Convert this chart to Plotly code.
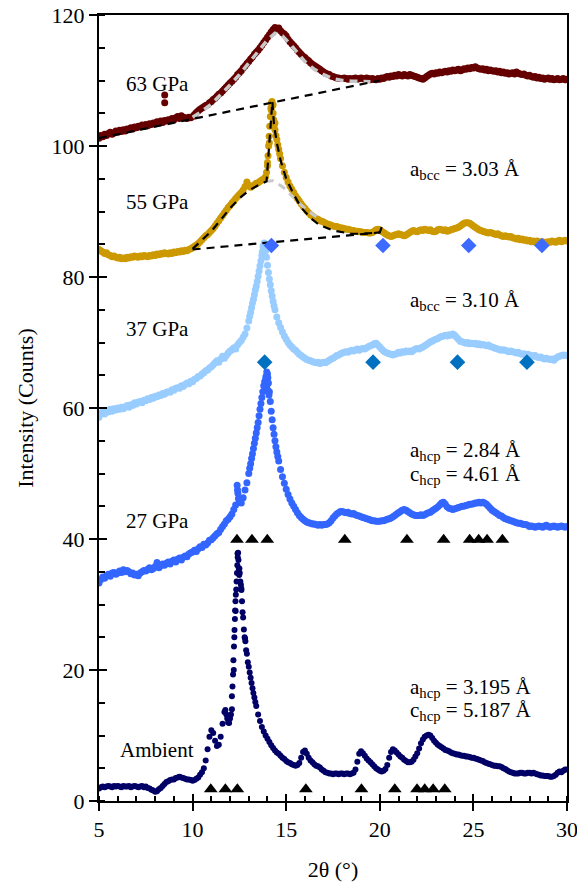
import numpy as np
import plotly.graph_objects as go

# ---------------- data ----------------
# common 2-theta sampling grid (5.0 ... 30.0, step 0.1)
two_theta = np.round(np.arange(5.0, 30.0001, 0.1), 1)

ambient_y = [
 1.9, 2.1, 2.2, 2.1, 2.2, 2.3, 2.2, 2.1, 2.3, 2.2,
 2.3, 2.2, 2.1, 2.3, 2.2, 2.2, 2.3, 2.1, 2.2, 2.3,
 2.2, 2.1, 2.2, 2.3, 2.1, 2.2, 2.0, 1.9, 1.7, 1.6,
 1.4, 1.5, 1.8, 2.0, 2.3, 2.6, 2.9, 3.0, 3.2, 3.3,
 3.3, 3.5, 3.6, 3.7, 3.6, 3.5, 3.4, 3.3, 3.3, 3.2,
 3.1, 3.2, 3.4, 3.6, 4.0, 4.4, 5.0, 6.2, 7.9, 9.8,
 10.8, 10.4, 9.2, 8.4, 8.6, 9.8, 11.8, 13.6, 13.2, 12.0,
 12.6, 14.0, 20.0, 29.0, 37.8, 35.5, 32.5, 28.0, 24.8, 22.5,
 20.5, 18.8, 17.2, 15.8, 14.5, 13.2, 12.2, 11.3, 10.6, 10.0,
 9.5, 9.0, 8.5, 8.1, 7.7, 7.4, 7.2, 6.9, 6.6, 6.4,
 6.1, 5.9, 5.8, 5.6, 5.5, 5.4, 5.5, 5.8, 6.6, 7.5,
 7.7, 7.2, 6.6, 6.2, 5.9, 5.6, 5.4, 5.3, 5.1, 4.8,
 4.6, 4.4, 4.3, 4.2, 4.2, 4.1, 4.2, 4.2, 4.1, 4.2,
 4.2, 4.1, 4.2, 4.2, 4.1, 4.2, 4.3, 4.8, 6.0, 7.2,
 7.6, 7.3, 6.9, 6.5, 6.2, 5.9, 5.6, 5.3, 5.0, 4.8,
 4.6, 4.5, 4.6, 4.9, 5.5, 6.6, 7.5, 7.9, 7.7, 7.4,
 7.1, 6.8, 6.6, 6.3, 6.1, 5.9, 5.9, 6.0, 6.3, 6.8,
 7.3, 8.0, 8.8, 9.4, 9.8, 10.0, 10.1, 10.0, 9.6, 9.2,
 8.9, 8.6, 8.4, 8.2, 8.0, 7.8, 7.7, 7.6, 7.4, 7.3,
 7.2, 7.1, 7.1, 7.0, 6.9, 6.9, 6.8, 6.8, 6.7, 6.6,
 6.6, 6.5, 6.4, 6.3, 6.2, 6.1, 5.9, 5.8, 5.7, 5.6,
 5.5, 5.4, 5.4, 5.3, 5.3, 5.2, 5.0, 4.9, 4.7, 4.5,
 4.4, 4.3, 4.2, 4.2, 4.2, 4.3, 4.3, 4.2, 4.2, 4.3,
 4.3, 4.2, 4.3, 4.2, 4.1, 4.0, 3.9, 3.9, 3.8, 3.8,
 3.8, 3.7, 3.7, 3.8, 4.0, 4.3, 4.5, 4.4, 4.6, 4.8, 4.8]
ambient_fine_x = [11.75, 11.85, 11.95, 12.05, 12.10, 12.13, 12.16, 12.18, 12.21, 12.23, 12.24, 12.26,
                  12.27, 12.29, 12.31, 12.33, 12.35, 12.37, 12.39, 12.41, 12.43, 12.45, 12.47,
                  12.49, 12.52, 12.55, 12.58, 12.61, 12.64, 12.67, 12.74, 12.78, 12.82, 12.86,
                  12.95, 13.05, 13.15, 13.25, 13.35]
ambient_fine_y = [13.9, 12.6, 11.9, 13.2, 16.0, 17.5, 19.3, 21.5, 23.6, 25.0, 26.1, 27.8,
                  29.1, 30.5, 31.5, 32.3, 33.5, 34.8, 36.0, 37.2, 37.9, 36.8, 35.5,
                  34.5, 34.8, 33.5, 33.0, 32.2, 30.5, 28.8, 26.2, 25.0, 24.4, 23.0,
                  21.2, 19.6, 18.0, 16.5, 15.1]

gpa27_y = [
 33.3, 33.8, 34.2, 34.0, 34.4, 34.6, 34.3, 34.8, 34.9, 34.6,
 34.8, 35.1, 34.9, 35.3, 35.0, 35.2, 35.0, 34.7, 34.8, 34.5,
 34.6, 34.4, 34.8, 35.0, 35.2, 35.1, 35.4, 35.6, 35.3, 35.5,
 35.8, 36.4, 35.6, 35.9, 36.2, 36.0, 36.3, 36.5, 36.2, 36.6,
 36.8, 36.5, 36.9, 37.1, 36.8, 37.2, 37.4, 37.3, 37.7, 37.9,
 38.0, 38.3, 38.1, 38.5, 38.8, 38.7, 39.2, 39.1, 39.4, 39.8,
 39.9, 40.2, 40.5, 40.8, 41.0, 41.5, 41.9, 42.3, 42.8, 43.0,
 43.4, 43.8, 44.5, 45.2, 47.5, 45.8, 45.5, 46.3, 47.5, 48.6,
 50.0, 51.5, 53.0, 54.6, 56.2, 57.8, 59.8, 61.6, 63.4, 64.4,
 65.2, 62.5, 59.5, 57.0, 55.0, 53.3, 51.9, 50.6, 49.5, 48.5,
 47.6, 46.8, 46.1, 45.5, 45.0, 44.5, 44.0, 43.6, 43.3, 43.0,
 42.8, 42.6, 42.5, 42.4, 42.3, 42.3, 42.2, 42.1, 42.2, 42.1,
 42.2, 42.2, 42.3, 42.5, 42.8, 43.2, 43.5, 43.8, 44.0, 44.2,
 44.2, 44.1, 44.0, 44.1, 43.9, 43.8, 43.9, 43.7, 43.6, 43.5,
 43.4, 43.3, 43.2, 43.1, 43.0, 42.9, 42.8, 42.8, 42.7, 42.7,
 42.7, 42.8, 42.8, 42.9, 43.0, 43.1, 43.2, 43.4, 43.6, 43.8,
 44.0, 44.2, 44.4, 44.5, 44.4, 44.2, 44.0, 43.8, 43.7, 43.6,
 43.6, 43.6, 43.7, 43.6, 43.7, 43.9, 44.0, 44.1, 44.3, 44.5,
 44.7, 44.9, 45.2, 45.5, 45.6, 45.3, 44.9, 44.7, 44.6, 44.5,
 44.6, 44.7, 44.8, 44.9, 45.0, 45.0, 45.1, 45.2, 45.3, 45.3,
 45.4, 45.5, 45.5, 45.6, 45.5, 45.6, 45.5, 45.3, 45.0, 44.7,
 44.4, 44.2, 44.0, 43.8, 43.6, 43.5, 43.3, 43.1, 43.0, 42.9,
 42.8, 42.7, 42.6, 42.5, 42.4, 42.4, 42.3, 42.2, 42.2, 42.1,
 41.9, 42.0, 41.9, 41.8, 41.9, 42.0, 41.9, 41.8, 42.0, 42.1,
 41.9, 41.8, 41.9, 42.0, 41.9, 41.8, 41.9, 42.0, 41.9, 41.8, 41.9]
gpa27_fine_x = [12.38, 12.42, 12.45, 13.05, 13.15, 13.25, 13.35, 13.45, 13.55, 13.65, 13.75,
                13.85, 13.92, 13.96, 13.97, 14.00, 14.02, 14.05, 14.08, 14.15, 14.25,
                14.35, 14.45, 14.55]
gpa27_fine_y = [48.2, 47.0, 46.2, 50.8, 52.3, 53.8, 55.4, 57.0, 58.8, 60.7, 62.5,
                64.0, 64.8, 65.5, 63.5, 62.8, 64.6, 63.8, 62.0, 61.0, 58.2,
                56.0, 54.1, 52.6]

gpa37_y = [
 58.6, 59.2, 59.4, 59.1, 59.6, 59.4, 59.8, 59.5, 59.9, 59.7,
 60.0, 59.8, 60.1, 59.9, 60.2, 60.4, 60.1, 60.5, 60.4, 60.8,
 60.6, 60.9, 61.0, 60.8, 61.2, 61.1, 61.4, 61.3, 61.6, 61.5,
 61.8, 61.7, 62.0, 61.9, 62.2, 62.1, 62.4, 62.5, 62.4, 62.8,
 62.7, 63.0, 63.1, 63.0, 63.4, 63.3, 63.6, 63.8, 63.7, 64.1,
 64.0, 64.4, 64.5, 64.8, 64.9, 65.2, 65.4, 65.7, 65.8, 66.1,
 66.3, 66.6, 66.9, 67.2, 67.0, 67.5, 67.9, 67.6, 68.0, 68.4,
 68.7, 68.9, 69.2, 69.0, 69.6, 70.0, 70.3, 70.8, 71.3, 72.2,
 73.3, 74.6, 76.0, 77.3, 78.6, 80.1, 81.7, 83.3, 84.8, 84.0,
 81.8, 79.7, 77.9, 76.3, 75.0, 73.9, 73.0, 72.3, 71.6, 71.0,
 70.5, 70.0, 69.6, 69.3, 69.0, 68.8, 68.5, 68.2, 68.0, 67.8,
 67.6, 67.4, 67.3, 67.2, 67.1, 67.0, 66.9, 67.0, 66.8, 66.9,
 67.0, 66.9, 67.1, 67.3, 67.5, 67.6, 67.8, 68.0, 68.1, 68.3,
 68.4, 68.5, 68.6, 68.5, 68.7, 68.8, 68.7, 68.9, 69.0, 68.8,
 69.0, 69.1, 69.0, 69.2, 69.4, 69.5, 69.6, 69.8, 69.9, 69.6,
 69.3, 69.0, 68.7, 68.5, 68.4, 68.3, 68.2, 68.1, 68.2, 68.3,
 68.5, 68.4, 68.6, 68.5, 68.7, 68.6, 68.7, 68.6, 68.8, 69.0,
 69.1, 69.0, 69.2, 69.3, 69.5, 69.7, 69.9, 70.1, 70.2, 70.4,
 70.5, 70.6, 70.8, 70.9, 71.0, 71.1, 71.0, 71.2, 71.1, 71.3,
 71.1, 70.8, 70.5, 70.2, 70.1, 70.0, 69.9, 70.0, 69.8, 69.9,
 69.8, 69.9, 69.7, 69.8, 69.6, 69.7, 69.6, 69.5, 69.6, 69.4,
 69.3, 69.2, 69.1, 69.0, 68.9, 68.8, 68.9, 68.8, 68.7, 68.6,
 68.7, 68.6, 68.5, 68.4, 68.5, 68.3, 68.2, 68.3, 68.1, 68.2,
 68.1, 68.0, 67.9, 68.0, 67.8, 67.7, 67.8, 67.6, 67.5, 67.6,
 67.5, 67.4, 67.5, 67.3, 67.6, 67.8, 67.9, 68.0, 68.1, 68.0, 68.1]
gpa37_fine_x = [13.05, 13.15, 13.25, 13.35, 13.45, 13.55, 13.65, 13.72, 13.76, 13.82,
                13.85, 13.95, 14.05, 14.15, 14.25, 14.35]
gpa37_fine_y = [74.0, 75.3, 76.6, 78.0, 79.3, 80.9, 82.5, 83.8, 84.6, 85.2,
                84.9, 83.0, 80.7, 78.8, 77.1, 75.6]

gpa55_y = [
 84.2, 84.0, 83.8, 83.6, 83.7, 83.4, 83.3, 83.1, 83.2, 83.0,
 82.9, 83.0, 82.8, 82.9, 82.8, 83.0, 82.9, 83.1, 83.0, 83.2,
 83.1, 83.0, 83.2, 83.1, 83.3, 83.2, 83.1, 83.3, 83.2, 83.4,
 83.3, 83.5, 83.4, 83.6, 83.5, 83.7, 83.6, 83.5, 83.7, 83.6,
 83.8, 83.7, 83.9, 83.8, 84.0, 83.9, 84.1, 84.0, 84.2, 84.3,
 84.5, 84.7, 84.9, 85.1, 85.4, 85.7, 86.0, 86.3, 86.5, 86.8,
 87.1, 87.4, 87.8, 88.2, 88.6, 89.0, 89.4, 89.8, 90.2, 90.6,
 90.9, 91.3, 91.6, 92.0, 92.3, 92.6, 92.9, 93.3, 93.8, 94.5,
 94.0, 93.7, 93.9, 94.1, 94.3, 94.4, 94.6, 94.8, 95.0, 95.3,
 97.5, 100.5, 105.5, 106.3, 103.5, 101.0, 99.5, 98.1, 97.0, 96.0,
 95.2, 94.5, 93.9, 93.4, 92.9, 92.4, 92.0, 91.6, 91.2, 90.8,
 90.5, 90.1, 89.8, 89.5, 89.3, 89.1, 88.9, 88.8, 88.6, 88.5,
 88.4, 88.2, 88.1, 88.0, 87.9, 87.8, 87.7, 87.7, 87.6, 87.5,
 87.5, 87.4, 87.3, 87.3, 87.2, 87.1, 87.1, 87.0, 87.0, 86.9,
 86.9, 86.8, 86.8, 86.8, 86.7, 86.7, 86.8, 87.0, 87.2, 87.3,
 87.2, 87.0, 86.8, 86.6, 86.4, 86.3, 86.2, 86.3, 86.4, 86.5,
 86.6, 86.5, 86.4, 86.3, 86.4, 86.6, 86.8, 87.0, 87.1, 87.0,
 86.9, 87.1, 87.2, 87.1, 87.3, 87.2, 87.1, 87.2, 87.0, 86.9,
 87.0, 87.2, 87.3, 87.2, 87.1, 87.2, 87.0, 87.1, 87.2, 87.3,
 87.4, 87.5, 87.6, 87.8, 88.0, 88.2, 88.3, 88.3, 88.2, 88.0,
 87.8, 87.6, 87.4, 87.2, 87.1, 87.0, 86.9, 86.8, 86.7, 86.8,
 86.7, 86.6, 86.5, 86.6, 86.4, 86.3, 86.2, 86.3, 86.2, 86.1,
 86.2, 86.0, 85.9, 85.8, 85.9, 85.7, 85.8, 85.6, 85.7, 85.5,
 85.6, 85.4, 85.5, 85.3, 85.5, 85.4, 85.3, 85.4, 85.2, 85.3,
 85.4, 85.3, 85.5, 85.4, 85.3, 85.5, 85.6, 85.4, 85.5, 85.6, 85.5]
gpa55_fine_x = [13.95, 14.00, 14.03, 14.06, 14.09, 14.12, 14.15, 14.18, 14.21, 14.24, 14.27,
                14.30, 14.33, 14.36, 14.40, 14.45, 14.55, 14.65]
gpa55_fine_y = [96.0, 97.0, 98.5, 100.0, 101.5, 103.0, 104.5, 105.8, 106.6, 106.8, 106.2,
                105.0, 104.0, 103.2, 102.5, 101.6, 100.2, 98.8]

gpa63_y = [
 101.2, 101.6, 101.4, 101.8, 101.6, 101.9, 102.1, 101.8, 102.0, 102.3,
 102.1, 102.4, 102.2, 102.5, 102.3, 102.6, 102.5, 102.8, 102.6, 102.9,
 102.8, 103.0, 102.9, 103.2, 103.0, 103.3, 103.1, 103.4, 103.3, 103.5,
 103.4, 103.7, 103.5, 103.8, 103.6, 103.9, 103.8, 104.0, 103.9, 104.2,
 104.0, 104.3, 104.5, 104.2, 104.6, 104.4, 104.3, 104.2, 104.4, 104.3,
 104.5, 104.8, 105.1, 105.4, 105.6, 105.8, 106.0, 106.2, 106.3, 106.6,
 106.8, 107.1, 107.3, 107.6, 107.9, 108.1, 108.4, 108.7, 109.0, 109.3,
 109.6, 109.9, 110.2, 110.5, 110.9, 111.2, 111.5, 111.9, 112.2, 112.6,
 112.9, 113.3, 113.6, 114.0, 114.3, 114.6, 115.0, 115.4, 115.8, 116.2,
 116.6, 117.0, 117.4, 117.8, 118.1, 117.9, 118.0, 117.6, 117.3, 117.1,
 116.8, 116.3, 115.9, 115.6, 115.3, 115.0, 114.6, 114.3, 114.0, 113.7,
 113.5, 113.2, 113.0, 112.7, 112.5, 112.3, 112.1, 111.9, 111.7, 111.5,
 111.3, 111.1, 111.0, 110.9, 110.7, 110.6, 110.5, 110.4, 110.4, 110.3,
 110.3, 110.4, 110.3, 110.2, 110.3, 110.2, 110.3, 110.4, 110.2, 110.3,
 110.4, 110.3, 110.2, 110.4, 110.3, 110.1, 110.3, 110.2, 110.1, 110.3,
 110.2, 110.4, 110.3, 110.5, 110.6, 110.5, 110.7, 110.6, 110.8, 110.7,
 110.9, 110.8, 110.7, 110.9, 110.8, 110.7, 110.9, 110.8, 110.7, 110.6,
 110.5, 110.4, 110.3, 110.2, 110.4, 110.6, 110.8, 111.0, 111.1, 111.0,
 111.2, 111.1, 111.3, 111.2, 111.3, 111.4, 111.3, 111.5, 111.4, 111.6,
 111.5, 111.6, 111.7, 111.5, 111.6, 111.8, 111.7, 111.9, 111.8, 112.0,
 111.9, 112.1, 111.9, 111.8, 111.7, 111.8, 111.6, 111.7, 111.5, 111.6,
 111.5, 111.4, 111.5, 111.3, 111.4, 111.2, 111.3, 111.1, 111.2, 111.0,
 111.1, 111.2, 111.0, 111.3, 111.1, 111.0, 110.9, 111.0, 110.8, 110.7,
 110.8, 110.6, 110.5, 110.6, 110.4, 110.5, 110.3, 110.4, 110.2, 110.3,
 110.4, 110.2, 110.3, 110.1, 110.2, 110.3, 110.1, 110.2, 110.3, 110.1, 110.2]
gpa63_fine_x = [8.51, 8.51]
gpa63_fine_y = [107.8, 106.6]

# fits and backgrounds
fit63_x = [10.0, 10.5, 11.0, 11.5, 12.0, 12.5, 13.0, 13.5, 14.0, 14.4, 14.8, 15.2, 15.6,
           16.0, 16.5, 17.0, 17.5, 18.0, 18.5, 19.0, 19.5]
fit63_y = [104.4, 105.3, 106.4, 107.8, 109.3, 110.9, 112.6, 114.4, 116.2, 117.2, 116.8, 115.6, 114.2,
           112.9, 111.7, 110.9, 110.3, 110.0, 109.9, 109.9, 109.8]
base63_x = [5.0, 20.0]
base63_y = [101.2, 110.0]
base55_x = [10.0, 20.0]
base55_y = [84.2, 86.8]
fit55_x = [10.0, 10.5, 11.0, 11.5, 12.0, 12.5, 13.0, 13.5, 13.95, 14.0, 14.1, 14.2, 14.26, 14.35,
           14.5, 14.7, 15.0, 15.4, 15.8, 16.3, 16.8, 17.5, 18.0, 18.5, 19.0, 19.5, 20.0, 20.1]
fit55_y = [84.3, 85.6, 87.0, 88.7, 90.5, 92.0, 93.2, 94.0, 94.6, 96.5, 100.5, 104.8, 106.8, 103.2,
           100.5, 97.8, 95.0, 92.6, 90.6, 89.0, 87.9, 87.1, 86.8, 86.6, 86.6, 86.7, 86.8, 87.6]
broad55_x = [13.9, 14.3, 14.8, 15.3, 15.8, 16.3, 16.8]
broad55_y = [94.6, 94.7, 93.8, 92.4, 91.0, 89.8, 88.8]

# reflection markers
hcp_amb_x = [10.97, 11.75, 12.39, 16.05, 19.02, 20.8, 21.99, 22.4, 22.85, 23.47]
hcp_amb_y = [1.8] * len(hcp_amb_x)
hcp_27_x = [12.37, 13.17, 13.99, 18.13, 21.45, 23.41, 24.8, 25.28, 25.73, 26.55]
hcp_27_y = [39.9] * len(hcp_27_x)
bcc_37_x = [13.85, 19.64, 24.15, 27.86]
bcc_37_y = [67.0] * len(bcc_37_x)
bcc_55_x = [14.21, 20.17, 24.75, 28.66]
bcc_55_y = [84.8] * len(bcc_55_x)

series = [
    ("Ambient", ambient_y, ambient_fine_x, ambient_fine_y, "#000066", 6),
    ("27 GPa", gpa27_y, gpa27_fine_x, gpa27_fine_y, "#3366FF", 7),
    ("37 GPa", gpa37_y, gpa37_fine_x, gpa37_fine_y, "#99CCFF", 7),
    ("55 GPa", gpa55_y, gpa55_fine_x, gpa55_fine_y, "#CC9900", 7),
    ("63 GPa", gpa63_y, gpa63_fine_x, gpa63_fine_y, "#660000", 7),
]

# ---------------- figure ----------------
fig = go.Figure()
for name, ys, fx, fy, col, sz in series:
    fig.add_trace(go.Scatter(
        x=list(two_theta) + list(fx), y=list(ys) + list(fy), mode="markers", name=name,
        marker=dict(size=sz, color=col, line=dict(width=0)), hoverinfo="skip"))

gray = "#C8C8C8"
fig.add_trace(go.Scatter(x=fit63_x, y=fit63_y, mode="lines", line=dict(color=gray, width=3.5, dash="8px,6px"), hoverinfo="skip"))
fig.add_trace(go.Scatter(x=broad55_x, y=broad55_y, mode="lines", line=dict(color=gray, width=3, dash="8px,6px"), hoverinfo="skip"))
for bx, by in [(base63_x, base63_y), (base55_x, base55_y), (fit55_x, fit55_y)]:
    fig.add_trace(go.Scatter(x=bx, y=by, mode="lines", line=dict(color="black", width=2.2, dash="8px,6px"), hoverinfo="skip"))

fig.add_trace(go.Scatter(x=hcp_amb_x, y=hcp_amb_y, mode="markers", marker=dict(symbol="triangle-up", size=12, color="black"), hoverinfo="skip"))
fig.add_trace(go.Scatter(x=hcp_27_x, y=hcp_27_y, mode="markers", marker=dict(symbol="triangle-up", size=12, color="black"), hoverinfo="skip"))
fig.add_trace(go.Scatter(x=bcc_37_x, y=bcc_37_y, mode="markers", marker=dict(symbol="diamond", size=12, color="#0070C0"), hoverinfo="skip"))
fig.add_trace(go.Scatter(x=bcc_55_x, y=bcc_55_y, mode="markers", marker=dict(symbol="diamond", size=12, color="#3D6BFF"), hoverinfo="skip"))

# helper trace so the overlay axes (inner half of the major ticks) render
fig.add_trace(go.Scatter(x=[5], y=[0], xaxis="x2", yaxis="y2", mode="markers",
                         marker=dict(opacity=0), hoverinfo="skip"))

FONT = "Liberation Serif, Times New Roman, serif"
label_font = dict(family=FONT, size=21, color="black")
labels = [
    ("63 GPa", 8.14, 109.4), ("55 GPa", 8.14, 91.5), ("37 GPa", 8.14, 72.1),
    ("27 GPa", 8.14, 42.8), ("Ambient", 8.12, 7.8),
]
for t, x, y in labels:
    fig.add_annotation(x=x, y=y, text=t, showarrow=False, font=label_font, xanchor="center", yanchor="middle")

params = [
    ("a<sub>bcc</sub> = 3.03 Å", 96.4), ("a<sub>bcc</sub> = 3.10 Å", 76.4),
    ("a<sub>hcp</sub> = 2.84 Å", 53.4), ("c<sub>hcp</sub> = 4.61 Å", 49.8),
    ("a<sub>hcp</sub> = 3.195 Å", 17.25), ("c<sub>hcp</sub> = 5.187 Å", 13.7),
]
for t, y in params:
    fig.add_annotation(x=21.5, y=y, text=t, showarrow=False, font=label_font, xanchor="left", yanchor="middle")

axis_common = dict(showgrid=False, zeroline=False, showline=True, linewidth=2, linecolor="black",
                   mirror=True, ticks="outside", ticklen=8, tickwidth=2, tickcolor="black",
                   automargin=False, ticklabeloverflow="allow",
                   tickfont=dict(family=FONT, size=22, color="black"))
fig.update_layout(
    width=577, height=885, margin=dict(l=99, r=10, t=15, b=84),
    plot_bgcolor="white", paper_bgcolor="white", showlegend=False,
    font=dict(family=FONT, color="black"),
    xaxis=dict(range=[5, 30], tick0=5, dtick=5, **axis_common,
               minor=dict(dtick=1, tick0=5, ticks="inside", ticklen=5, tickwidth=1.5, tickcolor="black"),
               title=dict(text="2θ (°)", font=dict(family=FONT, size=22, color="black"), standoff=20)),
    yaxis=dict(range=[0, 120], tick0=0, dtick=20, **axis_common,
               minor=dict(dtick=5, tick0=0, ticks="inside", ticklen=6, tickwidth=1.5, tickcolor="black"),
               title=dict(text="Intensity (Counts)", font=dict(family=FONT, size=22, color="black"), standoff=12)),
    xaxis2=dict(overlaying="x", anchor="y2", side="bottom", range=[5, 30], tick0=5, dtick=5,
                ticks="inside", ticklen=7, tickwidth=2, tickcolor="black", showticklabels=False,
                showgrid=False, zeroline=False, showline=False, automargin=False),
    yaxis2=dict(overlaying="y", anchor="x2", side="left", range=[0, 120], tick0=0, dtick=20,
                ticks="inside", ticklen=8, tickwidth=2, tickcolor="black", showticklabels=False,
                showgrid=False, zeroline=False, showline=False, automargin=False),
)

fig.write_html("out.html")
